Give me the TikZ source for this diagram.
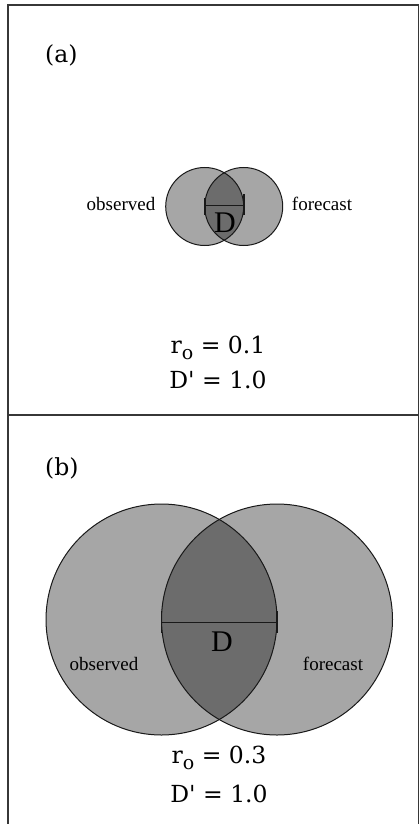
\documentclass[tikz,border=0pt]{standalone}
\usepackage{fontspec}
\setmainfont{DejaVu Serif}
\newfontfamily\tms{Liberation Serif}
\definecolor{lightc}{RGB}{166,166,166}
\definecolor{darkc}{RGB}{108,108,108}
\definecolor{framec}{RGB}{55,55,55}
\definecolor{linec}{RGB}{25,25,25}
\tikzset{
  frameline/.style={draw=framec, line width=1.6pt},
  circline/.style={draw=linec, line width=1pt},
  dline/.style={draw=linec, line width=1pt},
  tickline/.style={draw=linec, line width=1.6pt},
  plabel/.style={anchor=base west, inner sep=0pt, font=\fontsize{23.5}{23.5}\selectfont},
  stat/.style={anchor=base, inner sep=0pt, font=\fontsize{23.5}{23.5}\selectfont},
  setlabel/.style={anchor=base, inner sep=0pt, font=\tms\fontsize{19}{19}\selectfont},
  dlabel/.style={anchor=base, inner sep=0pt, font=\tms\fontsize{30}{30}\selectfont},
}
\newcommand{\subo}{\raisebox{-6pt}{\fontsize{19}{19}\selectfont o}}
\newcommand{\dprime}{D\textquotesingle}
\begin{document}
\begin{tikzpicture}[x=1pt,y=-1pt]
\useasboundingbox (0,0) rectangle (419,824);
\fill[white] (0,0) rectangle (419,824);
% frame
\coordinate (TL) at (8,5);
\coordinate (TR) at (418.5,5);
\coordinate (ML) at (8,415);
\coordinate (MR) at (418.5,415);
\coordinate (BL) at (8,824);
\coordinate (BR) at (418.5,824);
\draw[frameline] (BL) -- (TL) -- (TR) -- (BR);
\draw[frameline] (ML) -- (MR);

% ---------- panel (a) ----------
\node[plabel] (la) at (45,63) {(a)};
\coordinate (ao) at (204.7,206.5);
\coordinate (af) at (243.7,206.5);
\fill[lightc] (ao) circle (39pt);
\fill[lightc] (af) circle (39pt);
\begin{scope}
  \clip (ao) circle (39pt);
  \fill[darkc] (af) circle (39pt);
\end{scope}
\draw[circline] (ao) circle (39pt);
\draw[circline] (af) circle (39pt);
\coordinate (aL) at (204.7,205.5);
\coordinate (aR) at (243.7,205.5);
\draw[dline] (aL) -- (aR);
\draw[tickline] ([yshift=-9pt]aL) -- ([yshift=8pt]aL);
\draw[tickline] ([yshift=-9pt]aR) -- ([yshift=12pt]aR);
\node[dlabel] (aD) at (225,232) {D};
\node[setlabel] (aobs) at (121,210) {observed};
\node[setlabel] (afor) at (322,210) {forecast};
\node[stat] (ar) at (218,353) {r\subo\ = 0.1};
\node[stat] (ad) at (218,388) {\dprime\ = 1.0};

% ---------- panel (b) ----------
\node[plabel] (lb) at (45,475) {(b)};
\coordinate (bo) at (161.5,619.5);
\coordinate (bf) at (277,619.5);
\fill[lightc] (bo) circle (115.5pt);
\fill[lightc] (bf) circle (115.5pt);
\begin{scope}
  \clip (bo) circle (115.5pt);
  \fill[darkc] (bf) circle (115.5pt);
\end{scope}
\draw[circline] (bo) circle (115.5pt);
\draw[circline] (bf) circle (115.5pt);
\coordinate (bL) at (161.5,622);
\coordinate (bR) at (277,622);
\draw[dline] (bL) -- (bR);
\draw[tickline] ([yshift=-11pt]bL) -- ([yshift=11pt]bL);
\draw[tickline] ([yshift=-11pt]bR) -- ([yshift=11pt]bR);
\node[dlabel] (bD) at (222,651) {D};
\node[setlabel] (bobs) at (104,670) {observed};
\node[setlabel] (bfor) at (333,670) {forecast};
\node[stat] (br) at (219,763) {r\subo\ = 0.3};
\node[stat] (bd) at (219,802) {\dprime\ = 1.0};
\end{tikzpicture}
\end{document}
